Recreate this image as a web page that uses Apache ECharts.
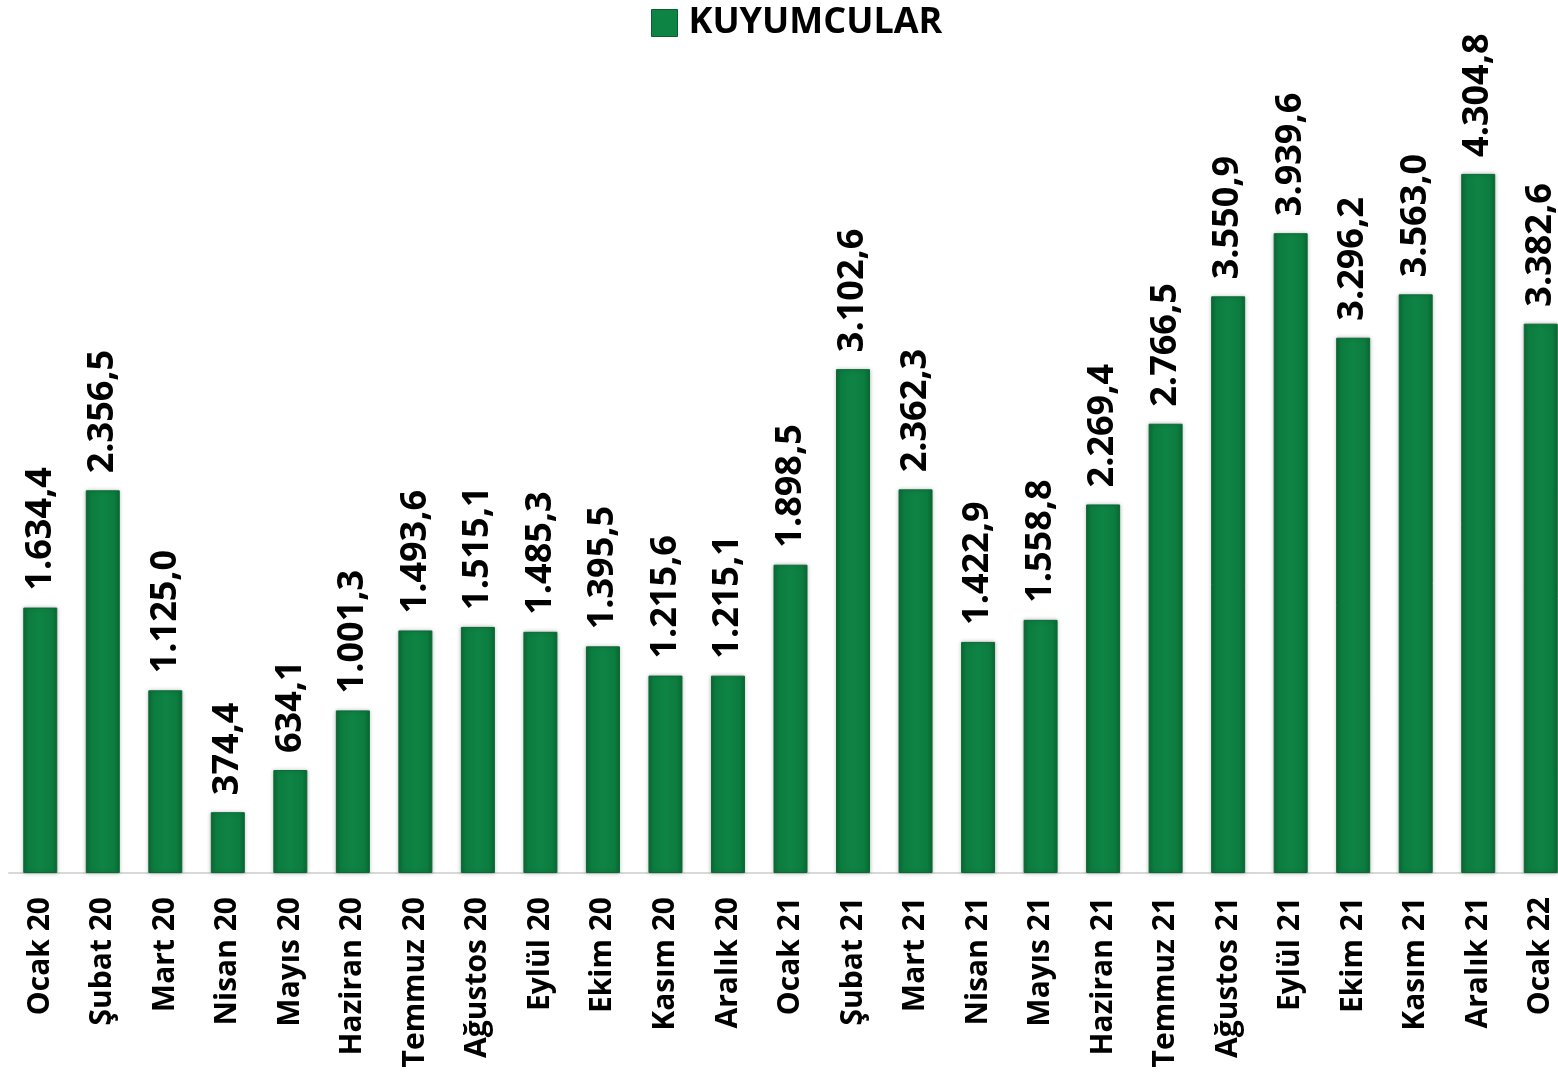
<!DOCTYPE html>
<html>
<head>
<meta charset="utf-8">
<script src="https://cdn.jsdelivr.net/npm/echarts@6/dist/echarts.min.js"></script>
<style>
  html,body{margin:0;padding:0;background:#fff;}
  #chart{width:1558px;height:1090px;}
</style>
</head>
<body>
<div id="chart"></div>
<script>
// aylar
const months = ["Ocak 20","Şubat 20","Mart 20","Nisan 20","Mayıs 20","Haziran 20","Temmuz 20","Ağustos 20","Eylül 20","Ekim 20","Kasım 20","Aralık 20",
  "Ocak 21","Şubat 21","Mart 21","Nisan 21","Mayıs 21","Haziran 21","Temmuz 21","Ağustos 21","Eylül 21","Ekim 21","Kasım 21","Aralık 21","Ocak 22"];
// kuyumcular değerleri
const kuyumcular = [1634.4,2356.5,1125.0,374.4,634.1,1001.3,1493.6,1515.1,1485.3,1395.5,1215.6,1215.1,
  1898.5,3102.6,2362.3,1422.9,1558.8,2269.4,2766.5,3550.9,3939.6,3296.2,3563.0,4304.8,3382.6];

const fontFam = '"Open Sans", "DejaVu Sans", sans-serif';

// 1.634,4 biçimi
function trFormat(v){
  const parts = v.toFixed(1).split('.');
  const intPart = parts[0].replace(/\B(?=(\d{3})+(?!\d))/g, '.');
  return intPart + ',' + parts[1];
}

const barColor = new echarts.graphic.LinearGradient(0,0,1,0,[
  {offset:0,color:'#0b6a35'},
  {offset:0.15,color:'#0c7c3f'},
  {offset:0.5,color:'#0e8444'},
  {offset:0.85,color:'#0c7c3f'},
  {offset:1,color:'#0b6a35'}
]);

const myChart = echarts.init(document.getElementById('chart'));
const option = {
  animation:false,
  legend:{
    top:0,
    left:646,
    itemWidth:26,
    itemHeight:27,
    itemGap:8,
    textStyle:{fontSize:36,fontWeight:'bold',color:'#000',fontFamily:fontFam,padding:[0,0,0,6]},
    data:[{name:'KUYUMCULAR',icon:'rect',itemStyle:{color:'#0e8444',borderColor:'#0a5f30',borderWidth:1}}]
  },
  grid:{left:9,width:1563,top:61,bottom:217,containLabel:false,outerBoundsMode:'none'},
  xAxis:{
    type:'category',
    data:months,
    axisLine:{show:true,lineStyle:{color:'#d9d9d9',width:2}},
    axisTick:{show:false},
    axisLabel:{
      rotate:90,
      interval:0,
      margin:24,
      fontSize:30,
      fontWeight:'bold',
      color:'#000',
      fontFamily:fontFam
    }
  },
  yAxis:{
    type:'value',
    min:0,
    max:5000,
    show:false,
    splitLine:{show:false}
  },
  series:[{
    name:'KUYUMCULAR',
    type:'bar',
    data:kuyumcular,
    barWidth:34,
    itemStyle:{color:barColor,borderColor:'#0a6a35',borderWidth:1,shadowColor:'rgba(0,0,0,0.25)',shadowBlur:4},
    label:{
      show:true,
      position:'top',
      rotate:90,
      align:'left',
      verticalAlign:'middle',
      distance:17,
      fontSize:36,
      fontWeight:'bold',
      color:'#000',
      fontFamily:fontFam,
      formatter:(p)=>trFormat(p.value)
    }
  }]
};
myChart.setOption(option);
</script>
</body>
</html>
